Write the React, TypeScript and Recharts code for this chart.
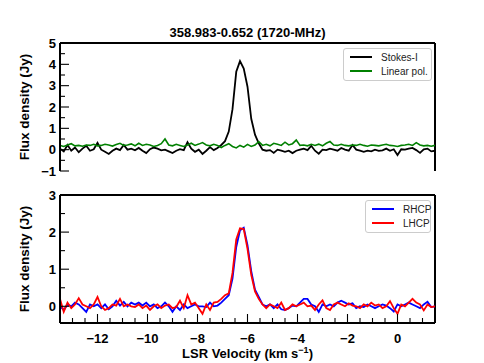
import React from "react";
import {
  LineChart,
  Line,
  XAxis,
  YAxis,
  Legend,
  Label,
  ReferenceLine,
} from "recharts";

// channel grid (km/s)
const V_START = -13.5;
const V_STEP = 0.15;

const stokesI = [
  0.05, -0.08, 0.22, -0.05, 0.1, -0.12, 0.05, 0.18, -0.05, 0.02,
  0.32, 0.0, -0.1, -0.2, -0.05, 0.05, -0.02, 0.22, 0.0, 0.05,
  -0.03, 0.08, -0.05, -0.16, 0.02, 0.1, 0.05, -0.03, 0.0, -0.08,
  -0.16, -0.05, 0.02, -0.02, 0.35, 0.05, -0.1, 0.0, -0.2, -0.05,
  0.12, -0.02, 0.08, 0.22, 0.4, 0.85, 1.9, 3.65, 4.15, 3.8,
  2.95, 1.45, 0.7, 0.3, 0.0, -0.05, -0.02, -0.15, 0.0, -0.05,
  -0.1, -0.05, -0.16, -0.05, 0.0, 0.05, -0.02, 0.18, -0.05, -0.19,
  0.0, -0.02, 0.05, 0.0, -0.05, 0.08, 0.0, -0.05, 0.22, 0.0,
  -0.05, -0.1, -0.05, -0.08, 0.0, -0.06, -0.03, 0.05, -0.05, 0.02,
  -0.25, 0.02, 0.0, 0.05, 0.08, -0.02, -0.15, 0.02, 0.05, -0.08,
  -0.05,
];

const linearPol = [
  0.2, 0.15, 0.22, 0.28, 0.18, 0.2, 0.16, 0.22, 0.2, 0.25,
  0.18, 0.2, 0.25, 0.22, 0.17, 0.24, 0.3, 0.2, 0.22, 0.27,
  0.18, 0.3, 0.2, 0.25, 0.22, 0.15, 0.2, 0.28, 0.5, 0.22,
  0.18, 0.25, 0.2, 0.15, 0.22, 0.3, 0.2, 0.26, 0.33, 0.22,
  0.18, 0.25, 0.2, 0.1, 0.2, 0.28, 0.15, 0.08, 0.2, 0.12,
  0.25, 0.15, 0.22, 0.38, 0.2, 0.25, 0.18, 0.3, 0.25, 0.2,
  0.35, 0.22, 0.28, 0.45, 0.2, 0.22, 0.18, 0.25, 0.2, 0.26,
  0.18, 0.3, 0.38, 0.22, 0.2, 0.25, 0.2, 0.18, 0.22, 0.2,
  0.25, 0.2, 0.16, 0.22, 0.2, 0.18, 0.22, 0.25, 0.2, 0.18,
  0.15, 0.2, 0.22, 0.25, 0.2, 0.33, 0.22, 0.18, 0.2, 0.16,
  0.2,
];

const rhcp = [
  0.0, -0.1, 0.05, 0.0, 0.1, 0.05, -0.05, -0.15, 0.05, 0.0,
  0.05, -0.05, 0.05, -0.08, 0.0, 0.15, 0.02, 0.12, 0.0, 0.1,
  0.05, 0.1, 0.02, 0.1, 0.0, 0.05, -0.05, 0.0, 0.1, 0.0,
  -0.15, 0.0, -0.1, 0.05, -0.05, 0.0, 0.05, 0.0, 0.0, -0.02,
  0.1, 0.0, 0.02, 0.1, 0.2, 0.3, 0.75, 1.6, 2.05, 2.12,
  1.65, 0.95, 0.45, 0.25, 0.05, 0.0, 0.05, -0.05, 0.05, -0.08,
  -0.1, -0.05, 0.02, 0.0, 0.1, 0.2, 0.2, 0.05, 0.0, -0.15,
  0.05, 0.0, 0.05, 0.0, 0.1, 0.15, 0.1, 0.05, 0.08, -0.05,
  0.0, -0.02, 0.05, 0.0, -0.05, 0.0, 0.05, 0.02, -0.05, -0.14,
  0.05, 0.0, 0.05, 0.1, 0.05, 0.0, -0.05, 0.05, 0.12, -0.02,
  0.0,
];

const lhcp = [
  0.2, -0.15, 0.1, -0.05, 0.05, 0.22, 0.05, 0.0, -0.05, 0.05,
  0.25, 0.0, -0.1, -0.05, 0.05, 0.02, 0.2, 0.0, 0.05, 0.0,
  -0.02, 0.05, -0.05, 0.02, -0.1, 0.0, 0.05, -0.05, 0.02, 0.05,
  -0.05, -0.02, 0.15, -0.05, 0.3, 0.05, 0.1, -0.05, -0.2, 0.05,
  -0.1, 0.1, 0.12, 0.2, 0.3, 0.35, 0.9, 1.8, 2.1, 2.08,
  1.55, 0.85, 0.4, 0.2, 0.05, -0.05, 0.05, 0.0, -0.05, 0.1,
  -0.1, -0.05, 0.05, 0.0, 0.05, 0.1, 0.0, 0.02, -0.1, 0.05,
  0.16, -0.05, -0.1, 0.05, 0.1, 0.05, 0.0, 0.08, 0.02, 0.0,
  -0.05, 0.05, 0.0, 0.1, 0.02, 0.05, -0.05, 0.0, 0.14, -0.05,
  -0.2, 0.05, 0.0, 0.1, 0.2, 0.1, 0.05, -0.11, 0.05, -0.02,
  0.0,
];

const X_DOMAIN = [-13.5, 1.5];
const X_TICKS = [
  -13, -12.5, -12, -11.5, -11, -10.5, -10, -9.5, -9, -8.5, -8, -7.5, -7,
  -6.5, -6, -5.5, -5, -4.5, -4, -3.5, -3, -2.5, -2, -1.5, -1, -0.5, 0, 0.5, 1,
];
const TOP_Y_DOMAIN = [-1, 5];
const TOP_Y_TICKS = [-1, -0.5, 0, 0.5, 1, 1.5, 2, 2.5, 3, 3.5, 4, 4.5, 5];
const BOTTOM_Y_DOMAIN = [-0.45, 3];
const BOTTOM_Y_TICKS = [0, 0.5, 1, 1.5, 2, 2.5, 3];

const TITLE = "358.983-0.652 (1720-MHz)";

const FONT = "'Liberation Sans', Arial, sans-serif";

const data = stokesI.map((_, i) => ({
  v: V_START + i * V_STEP,
  stokesI: stokesI[i],
  linearPol: linearPol[i],
  rhcp: rhcp[i],
  lhcp: lhcp[i],
}));

const fmt = (v: number) => (v < 0 ? `\u2212${Math.abs(v)}` : `${v}`);
const isMajorX = (v: number) => Math.abs(v % 2) < 1e-6;

const XTick = ({ x, y, payload, showLabel }: any) => {
  const v = payload.value;
  const major = isMajorX(v);
  return (
    <g>
      <line x1={x} x2={x} y1={y} y2={y - (major ? 9 : 5)} stroke="#000" strokeWidth={1.1} />
      {showLabel && major && (
        <text x={x} y={y + 20} textAnchor="middle" fontFamily={FONT} fontWeight="bold" fontSize={13} fill="#000">
          {fmt(v)}
        </text>
      )}
    </g>
  );
};

const YTick = ({ x, y, payload }: any) => {
  const v = payload.value;
  const major = Number.isInteger(v);
  return (
    <g>
      <line x1={x} x2={x + (major ? 9 : 5)} y1={y} y2={y} stroke="#000" strokeWidth={1.1} />
      {major && (
        <text x={x - 4} y={y} dy="0.36em" textAnchor="end" fontFamily={FONT} fontWeight="bold" fontSize={13} fill="#000">
          {fmt(v)}
        </text>
      )}
    </g>
  );
};

const yLabel = (props: any) => {
  const vb = props.viewBox;
  const cy = vb.y + vb.height / 2;
  return (
    <text
      x={24}
      y={cy}
      transform={`rotate(-90, 24, ${cy})`}
      textAnchor="middle"
      dominantBaseline="central"
      fontFamily={FONT}
      fontWeight="bold"
      fontSize={13.5}
      fill="#000"
    >
      Flux density (Jy)
    </text>
  );
};

const xLabel = (props: any) => {
  const vb = props.viewBox;
  const cx = vb.x + vb.width / 2;
  return (
    <text x={cx} y={vb.y + 35} textAnchor="middle" fontFamily={FONT} fontWeight="bold" fontSize={13} fill="#000">
      LSR Velocity (km s
      <tspan dy={-5} fontSize={9}>{"\u22121"}</tspan>
      <tspan dy={5}>)</tspan>
    </text>
  );
};

const legendBox = (items: { label: string; color: string }[], rowH: number, width: number) => () => (
  <div
    style={{
      width,
      boxSizing: "border-box",
      border: "1px solid #cccccc",
      borderRadius: 3,
      background: "#fff",
      padding: "1px 0 2px 6px",
      fontFamily: FONT,
      fontSize: 10,
      color: "#222",
      whiteSpace: "nowrap",
    }}
  >
    {items.map((it) => (
      <div key={it.label} style={{ display: "flex", alignItems: "center", height: rowH }}>
        <span style={{ width: 22, height: 0, borderTop: `2px solid ${it.color}`, marginRight: 9, flex: "none" }} />
        <span>{it.label}</span>
      </div>
    ))}
  </div>
);

const frameLine = { stroke: "#000", strokeWidth: 2 };

export default function App() {
  return (
    <div style={{ position: "absolute", left: 0, top: 0, width: 484, height: 363, background: "#fff" }}>
      <div
        style={{
          position: "absolute",
          left: 60,
          top: 25,
          width: 375,
          textAlign: "center",
          fontFamily: FONT,
          fontWeight: "bold",
          fontSize: 13,
          lineHeight: "16px",
          color: "#000",
        }}
      >
        {TITLE}
      </div>

      <div style={{ position: "absolute", left: 0, top: 0 }}>
        <LineChart width={484} height={180} data={data} margin={{ top: 43, right: 49, left: 0, bottom: 9 }}>
          <XAxis
            dataKey="v"
            type="number"
            domain={X_DOMAIN}
            ticks={X_TICKS}
            interval={0}
            allowDataOverflow
            height={0}
            tickSize={0}
            tickMargin={0}
            tickLine={false}
            axisLine={frameLine}
            tick={<XTick showLabel={false} />}
          />
          <YAxis
            type="number"
            domain={TOP_Y_DOMAIN}
            ticks={TOP_Y_TICKS}
            interval={0}
            allowDataOverflow
            width={60}
            tickSize={0}
            tickMargin={0}
            tickLine={false}
            axisLine={frameLine}
            tick={<YTick />}
          >
            <Label content={yLabel} />
          </YAxis>
          <ReferenceLine y={TOP_Y_DOMAIN[1]} {...frameLine} />
          <ReferenceLine x={X_DOMAIN[1]} {...frameLine} />
          <Line dataKey="stokesI" stroke="#000000" strokeWidth={1.8} dot={false} type="linear" isAnimationActive={false} />
          <Line dataKey="linearPol" stroke="#008000" strokeWidth={1.6} dot={false} type="linear" isAnimationActive={false} />
          <Legend
            layout="vertical"
            align="center"
            verticalAlign="middle"
            wrapperStyle={{ left: 343, top: 48, width: 89 }}
            content={legendBox(
              [
                { label: "Stokes-I", color: "#000000" },
                { label: "Linear pol.", color: "#008000" },
              ],
              14,
              89
            )}
          />
        </LineChart>
      </div>

      <div style={{ position: "absolute", left: 0, top: 180 }}>
        <LineChart width={484} height={183} data={data} margin={{ top: 15, right: 49, left: 0, bottom: 0 }}>
          <XAxis
            dataKey="v"
            type="number"
            domain={X_DOMAIN}
            ticks={X_TICKS}
            interval={0}
            allowDataOverflow
            height={40}
            tickSize={0}
            tickMargin={0}
            tickLine={false}
            axisLine={frameLine}
            tick={<XTick showLabel />}
          >
            <Label content={xLabel} />
          </XAxis>
          <YAxis
            type="number"
            domain={BOTTOM_Y_DOMAIN}
            ticks={BOTTOM_Y_TICKS}
            interval={0}
            allowDataOverflow
            width={60}
            tickSize={0}
            tickMargin={0}
            tickLine={false}
            axisLine={frameLine}
            tick={<YTick />}
          >
            <Label content={yLabel} />
          </YAxis>
          <ReferenceLine y={BOTTOM_Y_DOMAIN[1]} {...frameLine} />
          <ReferenceLine x={X_DOMAIN[1]} {...frameLine} />
          <Line dataKey="rhcp" stroke="#0000ff" strokeWidth={1.8} dot={false} type="linear" isAnimationActive={false} />
          <Line dataKey="lhcp" stroke="#ff0000" strokeWidth={1.8} dot={false} type="linear" isAnimationActive={false} />
          <Legend
            layout="vertical"
            align="center"
            verticalAlign="middle"
            wrapperStyle={{ left: 365, top: 20, width: 66 }}
            content={legendBox(
              [
                { label: "RHCP", color: "#0000ff" },
                { label: "LHCP", color: "#ff0000" },
              ],
              14,
              66
            )}
          />
        </LineChart>
      </div>
    </div>
  );
}
